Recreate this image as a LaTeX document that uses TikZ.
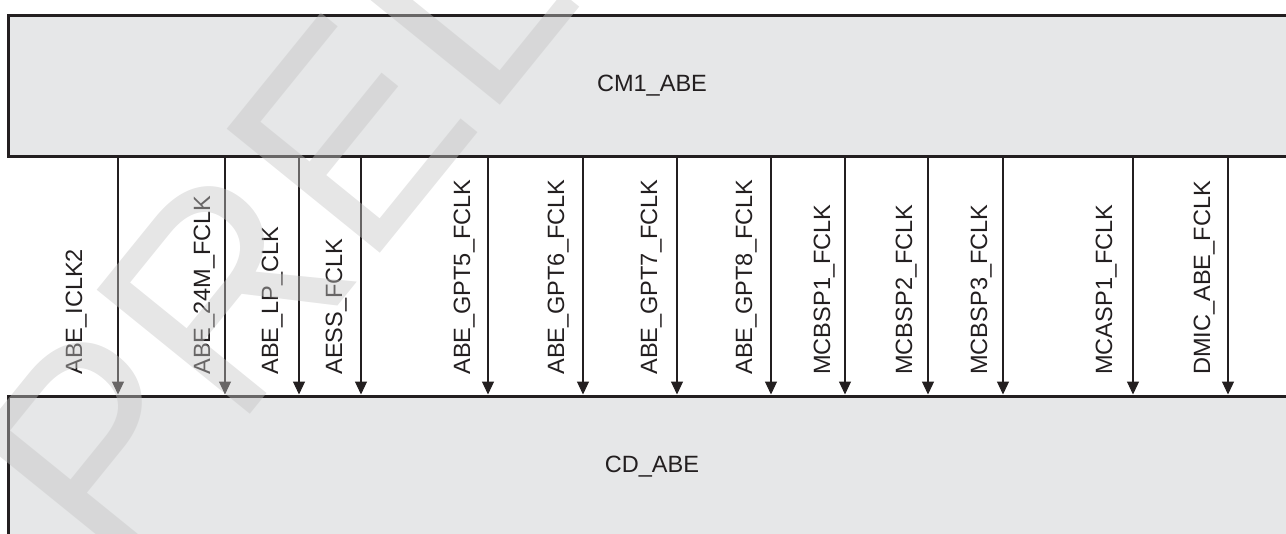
\documentclass[tikz,border=0pt]{standalone}
\usepackage{fontspec}
\setmainfont{Liberation Sans}
\usepackage{tikz}
\usetikzlibrary{arrows.meta,positioning}
\definecolor{ink}{HTML}{231F20}
\definecolor{boxgray}{HTML}{E6E7E8}
\definecolor{wmgray}{gray}{0.77}
\tikzset{
    every picture/.style={line cap=butt,line join=miter},
    domainbox/.style={draw=ink,fill=boxgray,line width=1.7pt,inner sep=0pt,
      minimum width=25.76cm,minimum height=2.84cm,
      font=\fontsize{13.4}{16}\selectfont,text=ink},
    clkarrow/.style={-{Triangle[length=2.6mm,width=2.4mm]},draw=ink,
      line width=0.6pt},
    clklabel/.style={rotate=90,anchor=base west,inner sep=0pt,text=ink,
      font=\fontsize{13.4}{16}\selectfont},
    watermark/.style={rotate=51,anchor=base west,inner sep=0pt,text=wmgray,
      text opacity=0.43,font=\fontsize{163}{163}\selectfont}
}
\begin{document}
\begin{tikzpicture}[x=0.02cm,y=-0.02cm]
  \useasboundingbox (0,0) rectangle (1286,534);
  \clip (0,0) rectangle (1286,534);
  \node[domainbox] (cm1) at (652,86) {CM1\_ABE};
  \node[domainbox] (cd) at (652,467) {CD\_ABE};
  \foreach \ax/\lx/\txt [count=\i] in {118/82/ABE\_ICLK2,225/210/ABE\_24M\_FCLK,
      299/278/ABE\_LP\_CLK,361/342/AESS\_FCLK,488/470/ABE\_GPT5\_FCLK,
      583/564/ABE\_GPT6\_FCLK,677/657/ABE\_GPT7\_FCLK,771/752/ABE\_GPT8\_FCLK,
      845/830/MCBSP1\_FCLK,928/912/MCBSP2\_FCLK,1003/987/MCBSP3\_FCLK,
      1133/1112/MCASP1\_FCLK,1228/1210/DMIC\_ABE\_FCLK}{
    \coordinate (clk\i) at (\ax,270);
    \draw[clkarrow] (cm1.south -| clk\i) -- (cd.north -| clk\i);
    \node[clklabel] (lbl\i) at (\lx,375) {\txt};
  }
  \node[watermark] (wm) at (115,581) {PRELIMINARY};
\end{tikzpicture}
\end{document}
